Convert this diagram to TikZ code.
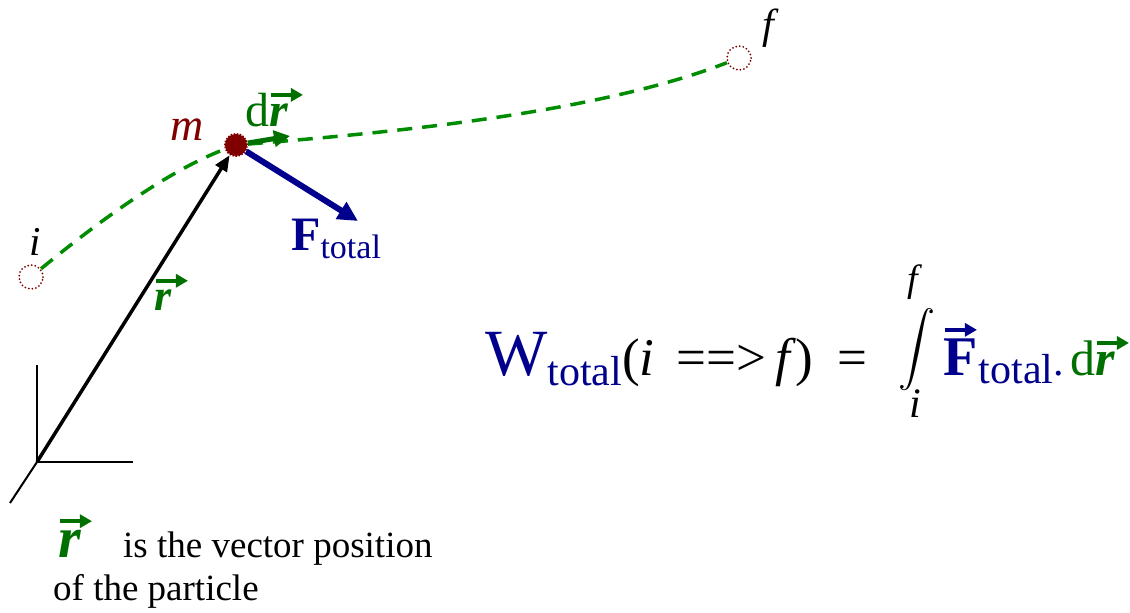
\documentclass[tikz,border=0pt]{standalone}
\usepackage{fontspec}
\setmainfont{Liberation Serif}
\usepackage{amsmath}
\usetikzlibrary{arrows.meta, positioning, calc}

% font size in pt (1pt = 1px of the figure)
\newcommand{\fs}[1]{\fontsize{#1}{#1}\selectfont}
% small vector arrow set over a symbol
\newcommand{\vecover}[1]{\leavevmode\vbox{\offinterlineskip
    \hbox{\tikz[x=1pt,y=1pt]\draw[line width=3.5pt,-{Triangle[length=12pt,width=13pt]}] (0,0) -- (32,0);}
    \kern2pt\hbox{#1}}}

\begin{document}
\begin{tikzpicture}[
    x=1pt, y=-1pt,
    txt/.style={inner sep=0pt, anchor=base west},
    particle/.style={
        circle, fill=mred, draw=mred, line width=2pt,
        dash pattern=on 1.5pt off 1.5pt,
        minimum size=22pt, inner sep=0pt
    },
    endpt/.style={
        circle, draw=mred, line width=2pt, line cap=round,
        dash pattern=on 0pt off 3.6pt,
        minimum size=24pt, inner sep=0pt
    },
    axis/.style={line width=2pt},
    trajectory/.style={
        draw=pgreen, line width=3.5pt, dash pattern=on 15pt off 10pt
    },
    rvec/.style={line width=3.5pt, -{Triangle[length=16pt,width=13pt]}},
    drvec/.style={draw=lgreen, line width=5pt, -{Triangle[length=16pt,width=16pt]}},
    fvec/.style={draw=navyc, line width=6pt, -{Triangle[length=20pt,width=19pt]}},
]

\definecolor{mred}{RGB}{128,0,0}
\definecolor{pgreen}{RGB}{0,140,0}
\definecolor{lgreen}{RGB}{0,112,0}
\definecolor{navyc}{RGB}{0,0,140}

\useasboundingbox (0,0) rectangle (1130,613);

% ============================================================
% Axes and path
% ============================================================

\coordinate (O) at (37,462);
\coordinate (ytop) at (37,365);
\coordinate (xend) at (133,462);
\coordinate (zend) at (10,503);

\draw[axis] (ytop) -- (O) -- (xend);
\draw[axis] (O) -- (zend);

\node[particle] (m) at (236,145) {};
\node[endpt] (pi) at (31,277) {};
\node[endpt] (pf) at (739,58) {};

\draw[trajectory] (pi) .. controls (110,212) and (175,168) .. (m);
\draw[trajectory] (m) .. controls (400,132) and (600,112) .. (pf);

\coordinate (drtip) at (290,136);
\coordinate (Ftip) at (358,221);

\draw[rvec] (O) -- (m);
\draw[drvec] (m) -- (drtip);
\draw[fvec] (m) -- (Ftip);

% labels
\node[txt, text=mred, font=\fs{46}\itshape] (mlab) at (170,140) {m};
\node[txt, text=lgreen, font=\fs{48}] (drlab) at (245,126) {d\vecover{\bfseries\itshape r}};
\node[txt, text=navyc] (Flab) at (291,250)
    {{\fs{48}\bfseries F}\raisebox{-8pt}{\fs{34}total}};
\node[txt, font=\fs{41}\itshape] (ilab) at (29,255) {i};
\node[txt, font=\fs{42}\itshape] (flab) at (762,38) {f};
\node[txt, text=lgreen, font=\fs{44}] (rlab) at (154,310) {\vecover{\bfseries\itshape r}};

% ============================================================
% Work integral
% ============================================================

\node[txt] (weq) at (485,375)
    {{\color{navyc}\fs{66}W\raisebox{-10pt}{\fs{42}total}}\fs{53}(\textit{i}\, ==>\,\textit{f})\hspace{24pt}=};
\node[inner sep=0pt] (intsign) at (917,350) {\scalebox{3.7}{$\displaystyle\int$}};
\node[txt, font=\fs{38}\itshape] (intup) at (907,291) {f};
\node[txt, font=\fs{42}\itshape] (intlow) at (909,417) {i};
\node[txt, text=navyc] (Feq) at (943,375)
    {\vecover{\fs{56}\bfseries F}\raisebox{-8pt}{\fs{42}total}\fs{42}.};
\node[txt, text=lgreen, font=\fs{50}] (dreq) at (1070,375) {d\vecover{\bfseries\itshape r}};

% ============================================================
% Caption
% ============================================================

\node[txt, text=lgreen, font=\fs{58}] (rbot) at (58,557) {\vecover{\bfseries\itshape r}};
\node[txt, font=\fs{37}] (desc1) at (123,557) {is the vector position};
\node[txt, font=\fs{37}] (desc2) at (53,600) {of the particle};

\end{tikzpicture}
\end{document}
